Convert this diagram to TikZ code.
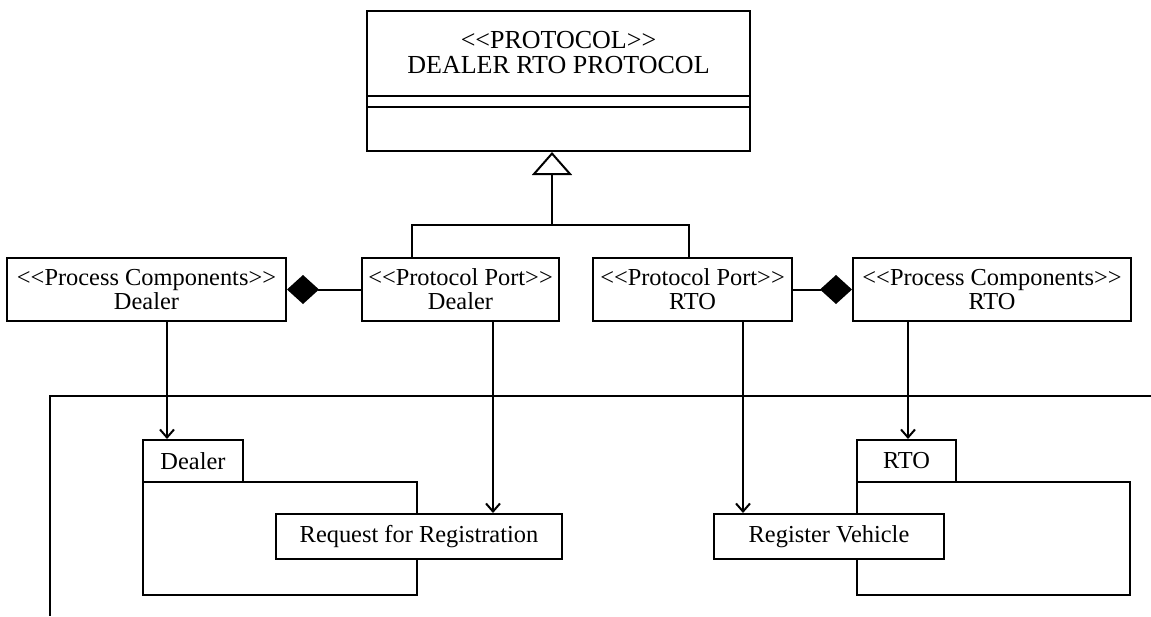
\documentclass[tikz,border=0pt]{standalone}
\usepackage{fontspec}
\setmainfont{Liberation Serif}
\usetikzlibrary{arrows.meta}
\usetikzlibrary{positioning}

\begin{document}
\begin{tikzpicture}[x=0.5pt,y=-0.5pt,>={Straight Barb[length=4pt,width=7pt]},
					line width=1pt,font=\fontsize{12.2}{12}\selectfont]
					\tikzstyle{umlbox}=[shape=rectangle,draw,fill=white,inner sep=0pt,align=center]
					\useasboundingbox (0,0) rectangle (1151,616);
					
					% protocol class
					\node[umlbox,minimum width=191.5pt,minimum height=70pt] (P_0) at (558.5,81) {};
					\node[align=center,font=\fontsize{13}{12.5}\selectfont] (P_t) at (558.5,52.5) {<{}<PROTOCOL>{}>\\DEALER RTO PROTOCOL};
					\draw (P_0.west |- 0,96) -- (P_0.east |- 0,96);
					\draw (P_0.west |- 0,107) -- (P_0.east |- 0,107);
					
					\node[umlbox,minimum width=139.5pt,minimum height=31.5pt] (PC_D) at (146.5,289.5) {<{}<Process Components>{}>\\Dealer};
					\node[umlbox,minimum width=98.5pt,minimum height=31.5pt]  (PP_D) at (460.5,289.5) {<{}<Protocol Port>{}>\\Dealer};
					\node[umlbox,minimum width=99.5pt,minimum height=31.5pt]  (PP_R) at (692.5,289.5) {<{}<Protocol Port>{}>\\RTO};
					\node[umlbox,minimum width=139pt,minimum height=31.5pt]   (PC_R) at (992,289.5) {<{}<Process Components>{}>\\RTO};
					
					% frame
					\draw (1151,396) -| (50,616);
					
					% packages
					\node[umlbox,minimum width=50pt,minimum height=21pt]     (K_D) at (193,461) {Dealer};
					\node[umlbox,minimum width=137pt,minimum height=56.5pt]  (B_D) at (280,538.5) {};
					\node[umlbox,minimum width=143pt,minimum height=22.5pt]  (A_D) at (419,536.5) {Request for Registration};
					\node[umlbox,minimum width=49.5pt,minimum height=21pt]   (K_R) at (906.5,461) {RTO};
					\node[umlbox,minimum width=136.5pt,minimum height=56.5pt] (B_R) at (993.5,538.5) {};
					\node[umlbox,minimum width=115pt,minimum height=22.5pt]  (A_R) at (829,536.5) {Register Vehicle};
					
					\coordinate (J_0) at (552,225);
					\draw (PP_D.north -| 412,0) |- (J_0) -| (PP_R.north -| 689,0);
					\draw[-{Triangle[open,length=11.5pt,width=20pt]}] (J_0) -- (P_0.south -| J_0);
					
					\draw[{Diamond[length=16pt,width=14.5pt]}-] (PC_D.east) -- (PP_D.west);
					\draw[-{Diamond[length=16pt,width=14.5pt]}] (PP_R.east) -- (PC_R.west);
					
					\path[->] (PC_D.south -| 167,0) edge (K_D.north -| 167,0)
					(PP_D.south -| 493,0) edge (A_D.north -| 493,0)
					(PP_R.south -| 743,0) edge (A_R.north -| 743,0)
					(PC_R.south -| 908,0) edge (K_R.north -| 908,0);
\end{tikzpicture}
\end{document}
